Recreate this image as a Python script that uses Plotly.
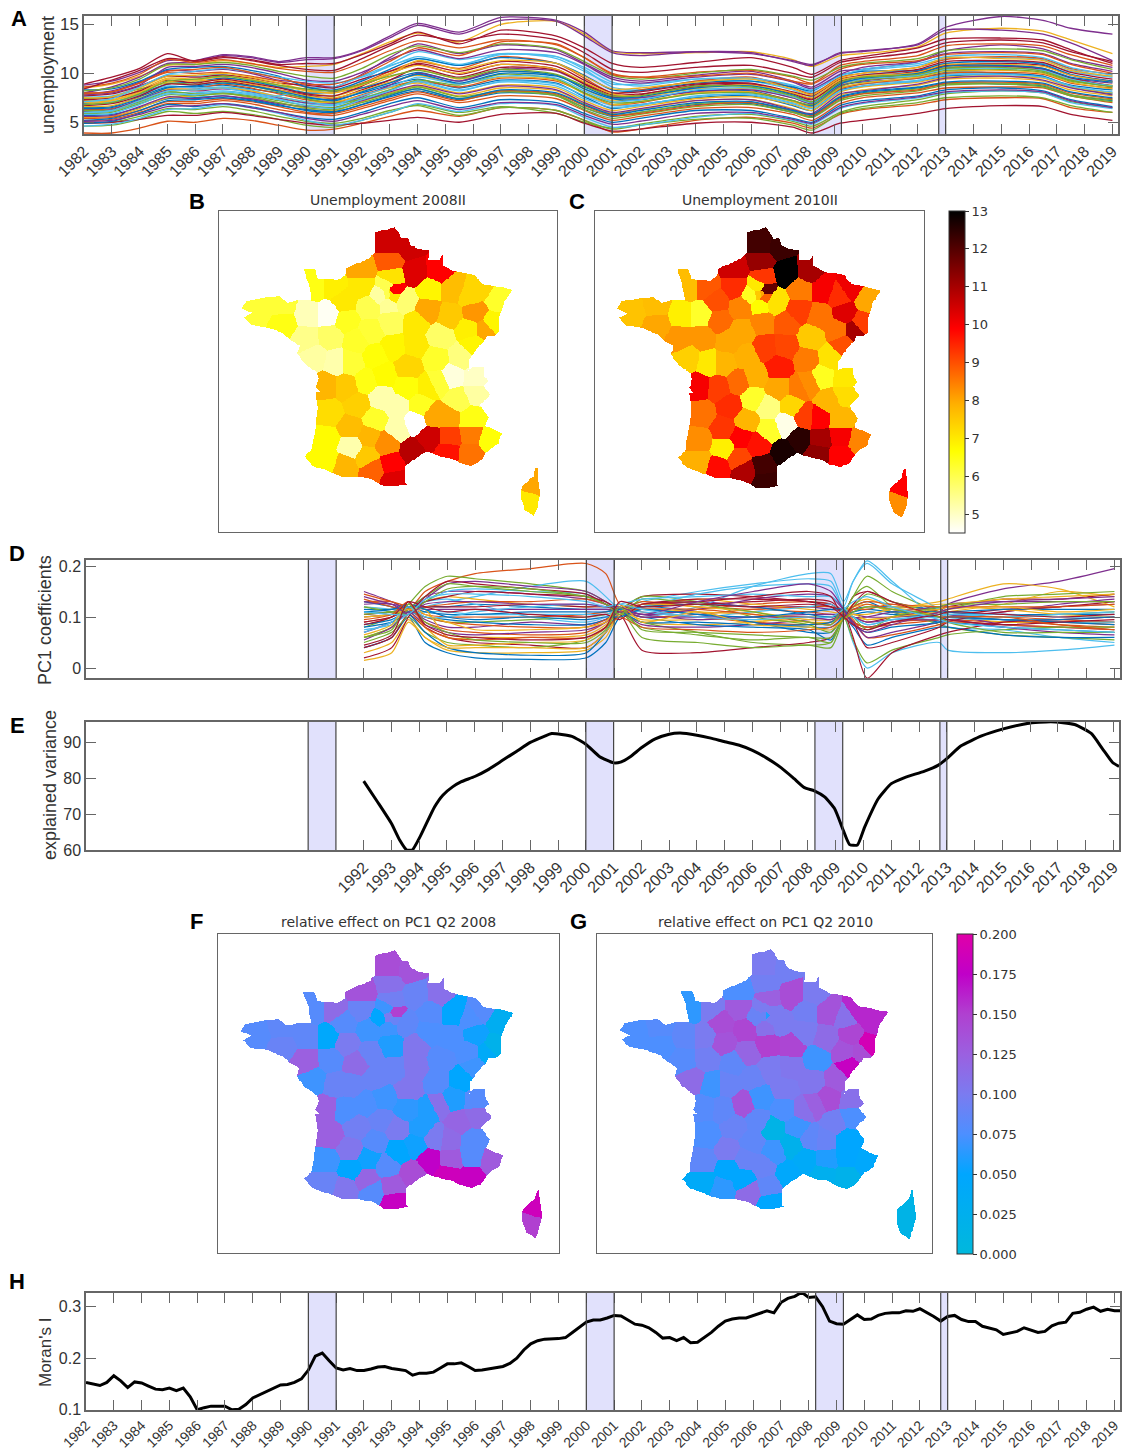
import numpy as np
import plotly.graph_objects as go

W, H = 1126, 1453
SANS = "Liberation Sans"
DEJA = "DejaVu Sans"
TXT = "#333333"
BOX = "#666666"
MATLAB = ["#0072BD", "#D95319", "#EDB120", "#7E2F8E", "#77AC30", "#4DBEEE", "#A2142F"]

BANDS = [(1990, 1991), (2000, 2001), (2008.25, 2009.25), (2012.75, 2013)]
ALL_YEARS = list(range(1982, 2020))
LATE_YEARS = list(range(1992, 2020))

# ---- Panel A: unemployment by department (a sample of series, read at key dates)
A_YEARS = [1982,1983,1984,1985,1986,1987,1988,1989,1990,1991,1992,1993,1994,1995.5,1997,1999,2000,2001,2002,2004,2006,2007.5,2008.2,2009.2,2010,2012,2013,2015,2016.5,2017.5,2019]
A_SERIES = [
[5.7,5.8,6.5,7.4,7.5,7.7,7.3,6.8,6.2,6.0,6.8,7.6,8.2,7.3,8.0,7.7,6.5,5.6,6.0,6.8,6.9,6.0,5.6,7.5,8.0,8.5,9.0,8.9,8.7,7.8,7.2],
[3.9,3.9,4.4,5.1,5.0,5.4,5.2,4.7,4.2,4.3,4.9,5.6,6.2,5.6,6.5,6.2,5.2,4.0,4.3,5.2,5.5,4.9,4.4,5.8,6.3,6.8,7.3,7.5,7.4,6.5,6.0],
[8.5,8.9,9.7,10.8,10.9,11.3,11.0,10.6,10.7,10.9,12.0,13.2,14.1,13.2,15.0,15.3,14.0,12.2,12.0,12.1,12.2,11.4,10.7,11.8,12.0,12.7,14.1,14.6,14.3,13.4,12.0],
[8.0,8.6,9.6,11.0,11.1,11.8,11.6,11.1,11.4,11.5,12.3,13.6,14.9,14.0,15.4,15.3,13.8,12.1,11.8,12.2,12.1,11.2,10.8,12.1,12.2,13.0,14.7,15.8,15.4,14.6,14.0],
[4.6,4.7,5.3,6.1,5.9,6.1,5.8,5.3,4.7,4.5,5.2,6.0,6.8,6.0,6.6,5.9,5.0,4.4,4.8,5.6,5.8,5.1,4.6,6.0,6.6,7.3,7.9,8.2,8.0,7.1,6.5],
[7.6,7.7,8.6,9.8,9.7,9.9,9.3,8.7,8.3,8.0,9.3,10.9,12.2,11.4,12.0,11.7,10.4,8.6,8.3,9.2,9.2,8.3,7.6,9.0,9.8,10.3,11.0,11.3,11.0,10.2,9.6],
[8.9,9.6,10.5,12.0,11.2,11.6,11.4,10.9,11.0,11.0,11.9,13.0,14.2,13.0,14.4,13.8,12.6,11.0,10.6,11.1,11.6,10.6,9.9,11.3,11.7,12.6,13.5,13.6,13.4,12.4,11.0],
[6.5,6.6,7.6,8.6,8.6,8.8,8.4,8.0,7.5,7.3,8.0,8.8,9.4,8.5,9.3,9.0,7.6,6.4,6.8,7.5,7.7,6.7,6.2,8.3,8.7,9.2,9.7,9.9,9.6,8.8,8.3],
[5.2,5.3,6.0,6.9,6.9,7.2,6.9,6.3,5.9,5.7,6.4,7.2,7.9,7.0,7.7,7.4,6.2,5.2,5.6,6.4,6.5,5.8,5.2,6.9,7.5,8.0,8.5,8.6,8.5,7.7,7.0],
[7.2,7.3,8.3,9.5,9.4,9.6,9.1,8.6,8.0,7.7,8.5,9.6,10.4,9.4,10.2,9.8,8.4,7.2,7.5,8.4,8.4,7.5,6.9,8.8,9.4,9.9,10.6,10.7,10.3,9.3,8.8],
[7.9,8.2,9.1,10.3,10.2,10.4,10.0,9.3,9.0,8.6,9.9,11.6,13.0,12.0,12.9,12.4,11.0,9.6,9.2,9.8,10.2,9.2,8.6,10.2,10.4,11.2,12.3,12.9,12.5,11.5,10.6],
[5.0,5.0,5.6,6.4,6.3,6.6,6.2,5.6,5.1,4.9,5.4,6.2,6.7,5.7,6.5,6.2,5.2,4.3,4.7,5.3,5.4,4.7,4.2,5.9,6.4,7.0,7.5,7.7,7.5,6.7,6.0],
[5.9,6.1,7.0,8.0,8.0,8.2,7.9,7.4,6.9,6.7,7.5,8.3,9.1,8.2,9.2,8.9,7.7,6.7,6.8,7.6,7.9,7.0,6.6,8.5,8.9,9.3,9.9,9.9,9.7,8.7,8.0],
[4.9,5.0,5.3,5.7,5.7,6.0,5.7,5.3,4.9,4.7,4.9,5.2,5.5,5.0,5.8,5.9,4.9,4.1,4.3,4.9,5.0,4.5,3.9,4.9,5.2,5.9,6.4,6.7,6.6,5.8,5.2],
[6.9,7.0,7.9,8.9,9.1,9.5,9.2,8.6,8.0,8.1,8.5,9.3,10.1,9.2,10.2,9.8,8.4,7.4,7.3,8.2,8.2,7.2,6.7,8.7,9.1,9.5,10.1,10.0,9.7,8.6,7.9],
[6.3,6.4,7.2,8.3,8.4,8.9,8.5,7.9,7.3,7.0,7.8,8.6,9.2,8.6,9.5,9.2,8.0,6.8,7.0,8.0,8.1,7.2,6.5,8.4,8.9,9.5,10.0,10.1,9.9,9.0,8.5],
[5.5,5.6,6.4,7.5,7.7,8.0,7.5,7.0,6.4,6.2,7.1,8.0,8.7,7.7,8.5,8.2,6.9,5.9,6.3,7.2,7.3,6.4,5.8,7.7,8.3,8.8,9.4,9.5,9.2,8.3,7.7],
[6.1,6.3,7.3,8.3,8.2,8.4,8.1,7.5,7.0,6.9,7.6,8.8,10.0,9.2,10.4,10.2,8.9,7.6,7.5,8.1,8.3,7.5,6.9,8.7,9.2,9.8,10.5,10.7,10.4,9.5,9.0],
[7.4,7.6,8.4,9.0,8.9,9.1,8.7,8.1,7.4,7.0,7.3,7.9,8.6,7.6,8.2,7.8,6.5,5.7,6.0,6.9,7.0,6.1,5.5,7.3,7.9,8.4,8.9,9.0,8.8,7.8,7.3],
[7.0,7.1,7.8,8.7,8.5,8.6,8.3,7.7,8.5,8.6,9.7,10.8,11.5,10.8,12.0,11.5,10.2,8.9,8.9,9.4,9.4,8.7,8.0,9.5,10.3,10.8,11.5,11.6,11.4,10.4,9.6],
[6.7,6.9,7.7,8.9,8.8,9.2,8.8,8.3,7.8,7.4,8.3,9.3,10.5,9.6,10.6,10.3,8.9,7.6,7.8,8.8,8.9,7.9,7.3,9.2,9.6,10.2,10.8,11.0,10.8,9.8,9.2],
[4.9,5.1,5.9,6.8,6.6,6.9,6.6,6.0,5.5,5.3,6.0,6.9,7.5,6.5,7.3,7.0,5.9,5.0,5.4,6.2,6.2,5.4,5.0,6.7,7.2,7.7,8.3,8.5,8.2,7.3,6.6],
[8.0,8.1,9.0,10.1,10.0,10.1,9.7,9.2,8.6,8.2,9.0,10.2,11.2,10.5,11.7,11.0,9.5,8.0,8.3,9.2,9.6,8.5,7.9,9.6,10.0,10.6,11.4,11.7,11.5,10.5,9.9],
[6.6,6.7,7.5,8.4,8.3,8.5,8.2,7.6,7.1,7.1,7.7,8.5,9.0,8.0,8.8,8.5,7.2,6.2,6.6,7.4,7.6,6.8,6.2,8.1,8.6,9.1,9.6,9.7,9.5,8.6,8.0],
[5.6,5.7,6.6,7.6,7.4,7.7,7.4,6.9,6.6,6.5,7.2,8.1,8.8,7.9,8.7,8.3,7.0,6.0,6.4,7.2,7.3,6.3,5.9,7.9,8.2,8.9,9.5,9.7,9.3,8.5,7.8],
[5.9,6.0,6.9,7.8,7.7,7.9,7.6,7.0,6.5,6.3,7.0,7.8,8.4,7.4,8.1,7.7,6.3,5.4,5.8,6.6,6.8,6.0,5.5,7.2,7.7,8.2,8.8,8.9,8.6,7.7,7.1],
[4.6,4.8,5.4,6.3,6.4,6.8,6.5,5.9,5.2,4.7,5.2,6.0,6.9,6.1,6.9,6.7,5.5,4.5,4.7,5.5,5.9,5.2,4.8,6.4,6.9,7.5,8.0,8.2,8.0,7.0,6.4],
[7.7,7.9,8.7,9.7,9.6,9.8,9.5,9.0,8.8,8.5,9.4,10.2,10.9,9.9,10.9,10.4,9.0,7.8,7.9,8.6,8.9,8.0,7.4,9.0,9.4,10.0,10.8,10.8,10.5,9.5,8.7],
[8.3,8.4,9.2,10.4,10.6,10.7,10.3,9.7,8.6,8.3,9.2,10.4,11.5,10.8,11.6,11.0,9.8,8.3,8.2,9.0,9.2,8.6,8.2,9.8,10.2,10.3,11.0,11.2,10.9,9.9,9.2],
[5.4,5.5,6.2,7.1,7.1,7.4,7.1,6.6,6.0,5.9,6.6,7.4,8.1,7.2,8.2,7.9,6.7,5.7,5.9,6.7,7.0,6.2,5.7,7.4,7.9,8.3,9.0,9.1,8.9,8.0,7.4],
[7.0,7.2,8.1,9.1,9.2,9.3,8.9,8.3,7.7,7.5,8.2,9.1,9.8,8.9,9.6,9.3,7.9,6.8,7.1,8.0,8.1,7.1,6.5,8.5,9.0,9.6,10.2,10.3,10.0,9.1,8.4],
[8.8,9.2,10.1,11.3,11.3,11.9,11.7,11.2,11.6,11.6,12.4,13.8,15.1,14.2,15.7,15.4,14.2,12.3,12.1,12.2,12.0,11.3,10.9,12.0,12.3,12.9,14.4,14.4,14.0,13.1,11.3],
[6.2,6.2,7.1,8.1,7.9,8.0,7.7,7.2,6.7,6.5,7.4,8.3,9.3,8.8,9.9,9.4,8.0,7.0,7.1,7.9,8.0,7.2,6.8,8.6,9.3,9.7,10.3,10.4,10.1,9.2,8.7],
[6.0,6.2,7.2,8.2,8.3,8.5,8.0,7.6,7.1,6.8,7.7,8.6,9.6,8.9,9.7,9.5,8.2,7.1,7.3,8.3,8.5,7.6,7.0,8.9,9.4,9.8,10.4,10.5,10.3,9.4,8.7],
[7.3,7.5,8.2,9.3,9.0,9.4,9.0,8.5,7.9,7.7,8.7,9.9,11.0,10.2,11.2,10.7,9.3,8.0,8.1,8.9,9.0,8.1,7.7,9.4,9.8,10.4,11.2,11.3,11.1,10.1,9.4],
[5.2,5.4,6.2,7.2,7.3,7.5,7.2,6.7,6.3,6.1,6.8,7.7,8.4,7.4,8.3,8.0,6.8,5.8,6.2,7.0,7.1,6.2,5.8,7.6,8.1,8.6,9.1,9.2,9.0,8.1,7.5],
[8.6,9.0,9.9,11.4,11.1,11.4,11.0,10.5,10.2,10.1,11.1,12.3,13.3,12.6,13.4,12.9,11.6,10.0,9.6,10.1,10.3,9.6,9.0,10.8,11.2,11.8,12.8,13.0,12.8,11.9,10.8],
[7.5,7.6,8.5,9.7,9.8,10.0,9.6,9.0,8.3,8.0,8.9,10.0,10.8,10.0,10.9,10.4,9.1,7.9,7.7,8.5,8.8,8.0,7.5,9.3,9.7,10.1,10.9,10.9,10.7,9.8,9.1],
[7.8,8.0,8.8,10.6,10.7,10.9,10.6,10.0,9.3,9.2,10.1,11.4,12.4,11.5,12.4,12.1,10.9,9.4,9.0,9.6,9.9,9.1,8.4,9.9,10.6,11.2,12.0,12.2,12.0,11.0,10.2],
[8.2,8.5,9.4,10.9,10.9,11.1,10.8,10.2,9.7,9.5,10.5,11.9,12.8,12.1,13.0,12.5,11.2,9.8,9.4,10.0,10.4,9.7,9.3,10.6,11.0,11.5,12.3,12.5,12.3,11.4,10.4],
[7.1,7.4,8.6,9.9,10.2,10.5,10.1,9.6,9.2,9.0,9.6,10.7,11.7,10.9,11.9,11.7,10.6,9.1,8.7,9.4,9.5,8.8,8.3,9.7,10.4,11.0,11.7,11.9,11.6,10.6,9.8],
[8.4,9.3,10.3,11.5,11.3,11.7,11.3,10.8,10.4,10.3,11.5,12.8,13.9,13.3,14.0,13.4,12.1,10.4,10.1,10.6,10.8,10.0,9.6,11.1,11.5,12.2,13.1,13.4,13.1,12.2,11.2],
[6.4,6.5,7.4,8.5,8.7,9.0,8.7,8.2,7.6,7.2,8.1,9.0,9.9,9.0,10.0,9.7,8.6,7.5,7.6,8.5,8.7,7.8,7.1,8.9,9.5,10.0,10.7,10.8,10.5,9.6,9.1],
[7.9,8.1,9.0,10.2,10.4,10.6,10.1,9.5,8.9,8.9,9.8,11.2,12.6,11.8,13.2,13.0,11.6,9.9,9.6,9.7,10.0,9.2,8.9,10.4,10.9,11.3,11.9,12.1,11.9,10.9,10.0],
[6.8,7.2,8.0,9.4,9.3,9.7,9.4,8.8,8.2,8.0,8.8,9.9,11.3,10.4,11.3,11.0,9.7,8.4,8.5,9.1,9.4,8.4,7.8,9.5,10.0,10.6,11.6,11.5,11.3,10.3,9.7],
[5.1,5.2,5.8,6.6,6.7,6.9,6.5,6.0,5.4,5.1,5.8,6.6,7.2,6.3,7.0,6.8,5.7,4.8,5.1,5.9,6.0,5.3,4.9,6.5,7.0,7.6,8.1,8.3,8.1,7.2,6.5],
[6.8,7.0,7.9,9.2,9.4,9.7,9.3,8.8,8.4,8.2,8.9,9.7,10.3,9.5,10.4,9.9,8.7,7.7,7.7,8.7,8.6,7.7,7.1,9.1,9.6,9.9,10.5,10.6,10.2,9.3,8.6],
[5.8,5.9,6.8,7.9,7.8,8.1,7.8,7.3,6.7,6.4,7.3,8.2,9.2,8.3,9.1,8.7,7.4,6.5,6.7,7.7,7.8,6.9,6.4,8.2,8.7,9.2,9.8,9.9,9.6,8.7,8.1],
]

# ---- Panel D: PC1 coefficients (a sample of series, read at key dates)
D_YEARS = [1992,1993,1993.6,1994.2,1995,1996,1998,2000,2000.7,2001.2,2002,2004,2006,2008,2008.8,2009.25,2009.6,2010.1,2011,2012.7,2013,2015,2017,2019]
D_SERIES = [
[.04,.06,.10,.05,.03,.02,.017,.02,.05,.10,.12,.11,.09,.08,.08,.10,.12,.13,.11,.09,.09,.08,.075,.07],
[.13,.13,.115,.15,.17,.185,.195,.205,.185,.125,.11,.10,.09,.085,.09,.105,.09,.08,.09,.095,.095,.09,.09,.085],
[.015,.03,.09,.06,.035,.03,.03,.035,.06,.105,.09,.085,.09,.10,.10,.11,.12,.125,.11,.10,.10,.09,.09,.09],
[.15,.13,.115,.14,.15,.15,.145,.135,.125,.115,.12,.13,.12,.12,.115,.11,.09,.08,.09,.11,.125,.155,.17,.195],
[.08,.10,.125,.16,.18,.175,.165,.15,.13,.11,.09,.07,.05,.045,.05,.105,.14,.18,.15,.11,.105,.10,.105,.11],
[.10,.105,.11,.12,.13,.14,.16,.17,.14,.115,.10,.12,.16,.185,.185,.13,.17,.21,.17,.09,.08,.075,.06,.05],
[.04,.06,.105,.08,.06,.05,.045,.04,.07,.105,.035,.03,.04,.05,.06,.10,.14,.15,.13,.11,.105,.115,.12,.13],
[.13,.12,.11,.12,.12,.125,.12,.115,.115,.11,.115,.105,.09,.07,.07,.105,.115,.12,.12,.115,.11,.105,.105,.105],
[.09,.10,.115,.09,.075,.07,.065,.07,.09,.115,.105,.115,.125,.13,.125,.105,.09,.08,.085,.095,.10,.10,.095,.09],
[.12,.115,.115,.13,.14,.135,.125,.12,.12,.115,.12,.135,.125,.115,.11,.105,.10,.095,.10,.105,.11,.125,.15,.14],
[.07,.09,.115,.095,.08,.08,.09,.085,.095,.11,.085,.08,.085,.095,.10,.105,.105,.10,.10,.105,.105,.085,.08,.075],
[.05,.07,.10,.07,.05,.045,.04,.055,.08,.115,.06,.05,.04,.045,.04,.10,.14,.16,.12,.085,.08,.065,.06,.055],
[.11,.11,.12,.13,.135,.125,.10,.09,.10,.115,.13,.15,.165,.175,.17,.11,.05,.00,.03,.05,.035,.03,.035,.045],
[.105,.11,.12,.12,.12,.12,.125,.12,.12,.115,.14,.145,.14,.13,.125,.11,.10,.09,.10,.115,.12,.135,.135,.145],
[.08,.09,.105,.07,.04,.03,.025,.03,.07,.11,.10,.085,.08,.075,.055,.10,.08,.045,.06,.08,.08,.065,.06,.06],
[.10,.105,.115,.12,.125,.13,.13,.135,.125,.115,.13,.12,.115,.11,.105,.105,.115,.125,.115,.105,.10,.095,.085,.08],
[.06,.08,.11,.08,.045,.045,.05,.055,.08,.11,.095,.095,.095,.09,.09,.105,.125,.135,.12,.13,.135,.165,.155,.12],
[.14,.125,.115,.135,.165,.17,.16,.15,.13,.115,.105,.095,.10,.105,.105,.105,.10,.09,.095,.095,.10,.11,.125,.135],
[.105,.11,.115,.10,.09,.09,.095,.10,.105,.115,.14,.13,.10,.085,.07,.10,.12,.145,.13,.11,.115,.14,.145,.15],
[.12,.115,.11,.13,.15,.155,.15,.145,.125,.115,.12,.145,.16,.165,.16,.12,.17,.205,.165,.115,.10,.095,.09,.09],
[.09,.10,.115,.13,.14,.15,.145,.14,.13,.115,.125,.125,.13,.135,.13,.11,.09,.04,.05,.08,.09,.11,.12,.125],
[.085,.095,.11,.10,.095,.09,.085,.085,.095,.11,.09,.09,.085,.085,.09,.105,.105,.11,.105,.10,.10,.095,.09,.085],
[.145,.13,.12,.105,.10,.10,.10,.105,.11,.115,.10,.105,.115,.12,.12,.11,.095,.06,.065,.085,.09,.085,.08,.075],
[.03,.05,.095,.06,.04,.04,.04,.04,.07,.105,.115,.11,.105,.10,.10,.105,.11,.12,.115,.115,.12,.115,.105,.10],
[.13,.125,.12,.115,.115,.115,.115,.115,.115,.115,.105,.115,.135,.145,.14,.115,.10,.10,.11,.12,.125,.13,.13,.13],
[.06,.08,.115,.14,.165,.16,.15,.14,.125,.11,.08,.065,.055,.06,.05,.10,.055,.01,.035,.06,.065,.075,.08,.08],
[.075,.085,.105,.11,.11,.105,.105,.105,.105,.115,.11,.10,.11,.12,.125,.11,.10,.085,.095,.105,.105,.105,.10,.10],
[.02,.04,.10,.14,.17,.165,.155,.145,.125,.11,.125,.135,.135,.13,.12,.11,.06,-.02,.03,.065,.07,.09,.095,.10],
[.115,.115,.12,.11,.105,.105,.11,.11,.11,.115,.12,.125,.12,.105,.10,.105,.11,.115,.11,.11,.11,.115,.115,.115],
[.135,.12,.115,.10,.09,.085,.08,.08,.095,.11,.115,.115,.105,.09,.085,.105,.12,.13,.125,.12,.12,.12,.12,.125],
[.10,.105,.115,.115,.06,.06,.06,.065,.085,.11,.125,.12,.11,.095,.095,.105,.105,.105,.115,.125,.125,.135,.14,.145],
[.055,.08,.11,.085,.07,.065,.07,.075,.09,.11,.10,.10,.10,.10,.095,.105,.09,.06,.07,.09,.095,.08,.07,.065],
[.12,.11,.105,.13,.155,.16,.155,.14,.125,.105,.135,.125,.11,.09,.085,.115,.10,.075,.10,.12,.125,.125,.13,.13],
[.07,.09,.12,.10,.10,.11,.12,.125,.12,.125,.135,.14,.145,.14,.14,.12,.10,.085,.095,.10,.105,.10,.105,.11],
[.085,.10,.13,.12,.11,.115,.105,.10,.105,.095,.125,.13,.14,.15,.14,.10,.125,.15,.13,.10,.095,.085,.09,.095],
[.11,.115,.125,.115,.10,.095,.10,.095,.10,.10,.115,.105,.10,.11,.115,.115,.085,.07,.08,.09,.10,.095,.095,.10],
[.095,.105,.13,.08,.06,.055,.06,.06,.08,.10,.08,.075,.07,.075,.08,.095,.115,.115,.125,.10,.10,.10,.085,.075],
[.065,.085,.125,.105,.09,.075,.075,.08,.09,.125,.09,.11,.085,.08,.075,.095,.105,.095,.10,.11,.115,.12,.11,.115],
[.125,.125,.105,.125,.13,.13,.125,.125,.12,.12,.105,.13,.15,.165,.15,.115,.085,.07,.085,.11,.115,.13,.135,.14],
[.06,.075,.125,.09,.07,.055,.05,.05,.075,.12,.075,.07,.065,.06,.06,.095,.11,.12,.115,.10,.09,.07,.07,.07],
[.11,.105,.105,.135,.145,.145,.14,.13,.12,.125,.115,.10,.095,.10,.10,.115,.13,.14,.12,.095,.09,.08,.075,.07],
[.045,.065,.13,.085,.065,.06,.055,.06,.08,.13,.12,.125,.12,.125,.12,.10,.085,.075,.09,.105,.11,.105,.10,.105],
]

# ---- Panel E: explained variance
E_YEARS = [1992,1992.5,1993,1993.3,1993.55,1993.75,1994.05,1994.55,1994.85,1995.2,1995.5,1996,1996.5,1997,1997.5,1998,1998.5,1998.77,1999.5,2000,2000.5,2001,2001.25,2001.6,2002,2002.5,2003,2003.4,2004,2004.5,2005,2005.5,2006,2006.5,2007.04,2007.5,2007.87,2008.23,2008.6,2008.96,2009.27,2009.5,2009.78,2010.04,2010.53,2011,2011.48,2012.2,2012.68,2013,2013.5,2014.25,2015,2015.9,2016.75,2017.6,2018.2,2018.6,2018.97,2019.2]
E_VALUES = [79.2,73.4,67.4,62.7,60,60,64,72,75.3,77.6,79,80.5,82.5,85,87.5,90,91.7,92.5,91.7,89.5,86,84.3,84.5,86,88.5,91,92.3,92.6,92,91.2,90.2,89.3,87.8,85.7,82.9,79.9,77.4,76.5,74.8,71.5,65.5,61.5,61.4,66.4,74.3,78.5,80.2,82,83.6,85.5,89,91.8,93.7,95.3,95.8,95,92.5,88.3,84.4,83.3]

# ---- Panel H: Moran's I
H_YEARS = [1982,1982.25,1982.5,1982.75,1983,1983.25,1983.5,1983.75,1984,1984.25,1984.5,1984.75,1985,1985.25,1985.5,1985.75,1986,1986.25,1986.5,1987,1987.25,1987.5,1987.75,1988,1988.5,1988.75,1989,1989.25,1989.5,1989.75,1990,1990.25,1990.5,1990.75,1991,1991.25,1991.5,1991.75,1992,1992.25,1992.5,1992.75,1993,1993.25,1993.5,1993.75,1994,1994.25,1994.5,1994.75,1995,1995.25,1995.5,1995.75,1996,1996.25,1996.5,1996.75,1997,1997.25,1997.5,1997.75,1998,1998.25,1998.5,1999,1999.25,1999.5,1999.75,2000,2000.25,2000.5,2000.75,2001,2001.25,2001.5,2001.75,2002,2002.25,2002.5,2002.75,2003,2003.25,2003.5,2003.75,2004,2004.25,2004.5,2004.75,2005,2005.25,2005.5,2005.75,2006,2006.25,2006.5,2006.75,2007,2007.25,2007.5,2007.75,2008,2008.25,2008.5,2008.75,2009,2009.25,2009.5,2009.75,2010,2010.25,2010.5,2010.75,2011,2011.25,2011.5,2011.75,2012,2012.25,2012.5,2012.75,2013,2013.25,2013.5,2013.75,2014,2014.25,2014.5,2014.75,2015,2015.25,2015.5,2015.75,2016,2016.25,2016.5,2016.75,2017,2017.25,2017.5,2017.75,2018,2018.25,2018.5,2018.75,2019,2019.2]
H_VALUES = [.153,.150,.147,.153,.166,.156,.143,.154,.152,.146,.140,.139,.142,.137,.142,.125,.100,.104,.107,.107,.100,.101,.110,.123,.136,.143,.148,.149,.153,.160,.177,.204,.210,.195,.181,.177,.180,.176,.176,.179,.183,.184,.180,.178,.176,.167,.171,.171,.173,.181,.189,.189,.191,.184,.176,.177,.179,.181,.184,.190,.200,.216,.228,.234,.237,.238,.240,.250,.260,.270,.274,.274,.278,.283,.282,.274,.266,.264,.259,.250,.239,.240,.234,.240,.230,.231,.241,.250,.262,.272,.276,.278,.278,.283,.288,.292,.288,.308,.316,.320,.328,.318,.319,.300,.272,.267,.266,.275,.284,.275,.276,.283,.287,.288,.288,.292,.291,.296,.289,.281,.272,.281,.283,.275,.271,.271,.262,.259,.255,.246,.249,.252,.259,.254,.250,.252,.263,.268,.270,.287,.289,.295,.299,.291,.295,.292,.292]

# ---- Maps: department centres (lon, lat) in the order 01..19, 2A, 2B, 21..95
DEPT_LON = [5.35,3.55,3.2,6.25,6.25,7.1,4.45,4.65,1.5,4.15,
            2.4,2.7,5.1,-.4,2.65,.2,-.75,2.5,1.9,9.0,
            9.25,4.75,-2.85,2.0,.75,6.35,5.15,1.0,1.35,-4.05,
            4.2,1.2,.45,-.6,3.4,-1.65,1.6,.7,5.6,5.7,
            -.75,1.4,4.15,3.8,-1.7,2.35,1.6,.45,3.5,-.55,
            -1.3,4.25,5.2,-.65,6.15,5.35,-2.8,6.65,3.5,3.2,
            2.4,.1,2.3,3.15,-.75,.15,2.5,7.55,7.25,4.6,
            6.1,4.55,.2,6.45,6.4,2.35,1.0,3.0,1.85,-.3,
            2.3,2.15,1.3,6.2,5.2,-1.3,.45,1.2,6.4,3.55,
            6.9,2.25,2.22,2.47,2.47,2.15]
DEPT_LAT = [46.1,49.55,46.4,44.1,44.65,43.95,44.75,49.6,42.95,48.3,
            43.1,44.3,43.55,49.1,45.05,45.7,45.75,47.05,45.35,41.85,
            42.4,47.4,48.45,46.1,45.1,47.15,44.7,49.1,48.4,48.25,
            44.0,43.35,43.7,44.85,43.55,48.15,46.75,47.25,45.25,46.7,
            43.95,47.6,45.7,45.1,47.35,47.9,44.6,44.35,44.5,47.4,
            49.1,49.0,48.1,48.15,48.8,49.0,47.85,49.05,47.1,50.45,
            49.4,48.6,50.5,45.7,43.25,43.05,42.6,48.65,47.85,45.85,
            47.65,46.65,47.95,45.5,46.0,48.86,49.65,48.6,48.8,46.55,
            49.95,43.8,44.05,43.45,44.0,46.7,46.55,45.9,48.2,47.85,
            47.62,48.5,48.85,48.92,48.77,49.08]
UNEMP_2008 = [4.8,10.3,7.3,8.5,6.5,6.6,8.0,9.9,8.8,8.0,
              9.9,5.2,9.7,6.9,5.2,7.5,7.8,6.8,5.2,7.0,
              8.0,5.8,6.2,6.7,7.4,6.8,8.0,7.0,6.0,6.2,
              10.5,7.5,5.2,7.2,10.8,5.1,6.6,6.3,6.0,5.6,
              6.7,6.2,6.9,6.4,5.5,5.9,6.3,7.7,4.5,5.8,
              6.5,6.8,7.5,4.6,7.3,7.7,6.5,7.3,7.0,10.5,
              7.1,7.0,10.5,6.6,6.7,7.8,10.3,6.3,6.8,6.2,
              6.9,6.3,6.4,5.3,5.0,7.0,8.0,5.7,5.3,5.2,
              8.9,8.3,7.8,8.6,9.2,5.3,6.2,6.5,8.2,7.0,
              8.0,5.4,6.0,9.9,7.0,6.0]
UNEMP_2010 = [6.4,13,9.6,10,7.8,8.4,9.2,11,10.9,9.2,
              12.2,6.3,11.3,8.9,5.6,9.2,10,9.2,6.3,8.3,
              9.9,7.5,7.7,7.9,9.4,9,9.9,9.4,8.4,7.6,
              12.5,9.1,6.9,8.6,12.7,6.9,7.9,8,7.8,7.1,
              8.3,8,8.5,7.3,8.2,8.4,7.8,9.3,4.7,8.2,
              7.7,8.5,8.6,6.3,9.4,10,8,10.1,9.1,12.3,
              9.3,9,12.2,8,7.9,9.8,12.3,8,9.2,8.3,
              8.6,8.5,8.7,7.2,7,8,10.5,7.1,6.4,7,
              11.2,9.7,9.9,9.9,11,7.4,7.8,8.7,10.3,8.9,
              11,6.7,7.5,11.8,8.8,7.0]
EFFECT_2008 = [.06,.09,.105,.08,.08,.13,.10,.11,.08,.075,
               .13,.05,.185,.115,.10,.075,.125,.09,.09,.15,
               .185,.08,.085,.07,.095,.07,.115,.09,.07,.08,
               .175,.12,.05,.125,.14,.085,.09,.115,.12,.05,
               .07,.09,.06,.06,.125,.06,.08,.105,.055,.08,
               .08,.08,.075,.045,.075,.05,.09,.08,.105,.135,
               .095,.08,.14,.065,.09,.105,.18,.03,.02,.11,
               .075,.08,.10,.115,.08,.10,.135,.085,.05,.09,
               .11,.08,.055,.18,.13,.07,.09,.075,.055,.105,
               .04,.07,.10,.15,.09,.07]
EFFECT_2010 = [.14,.14,.10,.05,.05,.045,.085,.10,.115,.10,
               .085,.07,.025,.10,.015,.085,.08,.10,.085,.015,
               .015,.07,.08,.07,.09,.18,.09,.13,.145,.075,
               .04,.05,.05,.075,.045,.085,.09,.085,.095,.13,
               .085,.12,.11,.07,.08,.15,.085,.10,.022,.095,
               .065,.095,.115,.10,.11,.135,.075,.16,.105,.095,
               .125,.14,.10,.075,.04,.065,.05,.16,.19,.125,
               .135,.105,.135,.075,.11,.06,.075,.10,.09,.07,
               .095,.09,.09,.02,.06,.115,.09,.135,.145,.145,
               .14,.11,.09,.10,.10,.10]
FRANCE_LON = [2.55,2.9,3.15,3.3,3.65,4.2,4.15,4.7,4.85,4.85,5.4,5.8,6.4,6.75,7.3,8.2,7.8,7.6,7.6,7.35,7.0,6.9,6.45,6.1,6.1,5.97,6.3,6.8,6.85,7.05,6.8,7.15,6.65,7.05,6.9,7.7,7.5,7.0,6.65,6.2,5.7,5.3,4.85,4.4,4.1,3.5,3.05,3.05,3.15,2.5,2.0,1.45,.7,0,-.75,-1.4,-1.78,-1.45,-1.25,-1.15,-1.25,-1.05,-1.25,-1.1,-1.2,-1.8,-2.15,-2.0,-2.5,-2.8,-3.5,-4.35,-4.7,-4.3,-4.8,-4.6,-3.6,-3.0,-2.6,-2.0,-1.45,-1.6,-1.85,-1.3,-1.15,-.2,.15,.2,1.35,1.6,1.6]
FRANCE_LAT = [51.09,50.7,50.75,50.5,50.35,50.3,49.98,50.0,50.15,49.8,49.6,49.55,49.47,49.17,49.12,48.97,48.55,48.1,47.6,47.43,47.45,47.3,46.95,46.6,46.25,46.2,46.4,46.4,46.1,45.9,45.75,45.45,45.1,44.7,44.4,44.15,43.78,43.55,43.2,43.05,43.15,43.3,43.35,43.45,43.55,43.28,43.05,42.5,42.43,42.35,42.38,42.6,42.7,42.7,42.9,43.05,43.37,43.6,44.4,45.0,45.55,45.55,45.7,46.0,46.2,46.5,46.85,47.1,47.3,47.5,47.7,47.8,48.05,48.2,48.35,48.6,48.72,48.75,48.55,48.65,48.65,49.2,49.7,49.7,49.35,49.3,49.47,49.7,50.05,50.25,50.9]
CORSICA_LON = [9.4,9.45,9.55,9.4,9.25,8.8,8.6,8.65,9.2,9.33]
CORSICA_LAT = [43.0,42.7,42.1,41.65,41.37,41.55,42.0,42.35,42.7,43.0]

HOT_R = [[0, "#FFFFFF"], [.254, "#FFFF00"], [.40, "#FFB000"], [.635, "#FF0000"], [.82, "#800000"], [1, "#000000"]]
COOL = [[0, "#00B8DC"], [.25, "#00A6FF"], [.375, "#4D8FFF"], [.5, "#7B7BF0"], [.625, "#9B60E0"], [.75, "#B040D0"], [.875, "#C000C8"], [1, "#E000A8"]]


def inside(px, py, xs, ys):
    xs, ys = np.array(xs), np.array(ys)
    x2, y2 = np.roll(xs, -1), np.roll(ys, -1)
    out = np.zeros(px.shape, bool)
    for a, b, c, d in zip(xs, ys, x2, y2):
        cond = (b > py) != (d > py)
        with np.errstate(divide="ignore", invalid="ignore"):
            out ^= cond & (px < a + (py - b) * (c - a) / (d - b))
    return out


grid_lon = np.arange(-6.0, 10.4, 0.04)
grid_lat = np.arange(40.7, 51.75, 0.03)
GX, GY = np.meshgrid(grid_lon, grid_lat)
mask = inside(GX, GY, FRANCE_LON, FRANCE_LAT) | inside(GX, GY, CORSICA_LON, CORSICA_LAT)
dx = (GX[..., None] - np.array(DEPT_LON)) * 0.7
dy = GY[..., None] - np.array(DEPT_LAT)
nearest = np.argmin(dx * dx + dy * dy, axis=-1)


def dept_field(values):
    z = np.array(values, dtype=np.float32)[nearest]
    z[~mask] = np.nan
    return z


def fx(p):
    return p / W


def fy(p):
    return 1 - p / H


fig = go.Figure()
layout = dict(width=W, height=H, margin=dict(l=0, r=0, t=0, b=0, autoexpand=False), paper_bgcolor="white",
              plot_bgcolor="white", showlegend=False, font=dict(family=SANS, color=TXT))
shapes, notes = [], []


def line_panel(n, box, yrange, ytick, yfmt, xtick, labels, xfont, yfont):
    l, t, r, b = box
    sx = "" if n == 1 else str(n)
    layout[f"xaxis{sx}"] = dict(domain=[fx(l), fx(r)], range=[1982, 2019.2], anchor=f"y{sx}", tickmode="array",
                                tickvals=xtick, ticktext=[str(v) for v in xtick], showticklabels=labels,
                                tickangle=-45, ticks="inside", ticklen=10, tickcolor=BOX, tickwidth=1,
                                automargin=False, showline=True, linecolor=BOX, linewidth=1.5, mirror="ticks",
                                showgrid=False, zeroline=False, tickfont=dict(size=xfont, color=TXT, family=SANS))
    layout[f"yaxis{sx}"] = dict(domain=[fy(b), fy(t)], range=yrange, anchor=f"x{sx}", tickmode="array", tickvals=ytick,
                                tickformat=yfmt, ticks="inside", ticklen=10, tickcolor=BOX, tickwidth=1,
                                automargin=False, showline=True, linecolor=BOX, linewidth=1.5, mirror="ticks",
                                showgrid=False, zeroline=False, tickfont=dict(size=yfont, color=TXT, family=SANS))
    for a, c in BANDS:
        shapes.append(dict(type="rect", xref=f"x{sx}", yref=f"y{sx} domain", x0=a, x1=c, y0=0, y1=1,
                           fillcolor="#E1E1FC", line_width=0, layer="below"))
        for v in (a, c):
            shapes.append(dict(type="line", xref=f"x{sx}", yref=f"y{sx} domain", x0=v, x1=v, y0=0, y1=1,
                               line=dict(color="#444444", width=1.2), layer="above"))


line_panel(1, (84, 16, 1118, 134), [3.8, 15.85], [5, 10, 15], "d", ALL_YEARS, True, 16, 17)
line_panel(2, (86, 560, 1120, 678), [-.0196, .2118], [0, .1, .2], ".1~f", LATE_YEARS, False, 15, 16)
line_panel(3, (86, 722, 1119, 850), [60, 95.7], [60, 70, 80, 90], "d", LATE_YEARS, True, 16, 16)
line_panel(4, (86, 1293, 1120, 1410), [.0995, .3265], [.1, .2, .3], ".1f", ALL_YEARS, True, 14, 16)

for i, s in enumerate(A_SERIES):
    fig.add_trace(go.Scatter(x=A_YEARS, y=s, mode="lines", xaxis="x", yaxis="y", hoverinfo="skip",
                             line=dict(color=MATLAB[i % 7], width=1.3, shape="spline", smoothing=.7)))
for i, s in enumerate(D_SERIES):
    fig.add_trace(go.Scatter(x=D_YEARS, y=s, mode="lines", xaxis="x2", yaxis="y2", hoverinfo="skip",
                             line=dict(color=MATLAB[i % 7], width=1.2, shape="spline", smoothing=.7)))
fig.add_trace(go.Scatter(x=E_YEARS, y=E_VALUES, mode="lines", xaxis="x3", yaxis="y3",
                         line=dict(color="black", width=3, shape="spline", smoothing=.5)))
fig.add_trace(go.Scatter(x=H_YEARS, y=H_VALUES, mode="lines", xaxis="x4", yaxis="y4",
                         line=dict(color="black", width=3)))


def map_panel(n, box, x_at, xscale, y_at, yscale, values, scale, zr, bar):
    l, t, r, b = box
    sx = str(n)
    lon_l = -4.8 + (l - x_at) / xscale
    lon_r = -4.8 + (r - x_at) / xscale
    lat_t = 51.09 - (t - y_at) / yscale
    lat_b = 51.09 - (b - y_at) / yscale
    layout[f"xaxis{sx}"] = dict(domain=[fx(l), fx(r)], range=[lon_l, lon_r], anchor=f"y{sx}", showticklabels=False,
                                ticks="", showgrid=False, zeroline=False, showline=True, mirror=True, automargin=False,
                                linecolor=BOX, linewidth=1.2)
    layout[f"yaxis{sx}"] = dict(domain=[fy(b), fy(t)], range=[lat_b, lat_t], anchor=f"x{sx}", showticklabels=False,
                                ticks="", showgrid=False, zeroline=False, showline=True, mirror=True, automargin=False,
                                linecolor=BOX, linewidth=1.2)
    tr = dict(z=dept_field(values), x=grid_lon, y=grid_lat, xaxis=f"x{sx}", yaxis=f"y{sx}", colorscale=scale,
              zmin=zr[0], zmax=zr[1], hoverinfo="skip", showscale=bar is not None)
    if bar:
        tr["colorbar"] = bar
    fig.add_trace(go.Heatmap(**tr))


def cbar(left, top, bottom, vals, text):
    return dict(x=fx(left), xanchor="left", xpad=0, ypad=0, y=fy(bottom), yanchor="bottom", lenmode="pixels",
                len=bottom - top, thickness=16, thicknessmode="pixels", outlinecolor="#333333", outlinewidth=1,
                tickmode="array", tickvals=vals, ticktext=text, ticks="outside", ticklen=4, tickcolor="#333333",
                tickfont=dict(size=13, family=DEJA, color=TXT))


map_panel(5, (219, 211, 557, 532), 242, 20.8, 227, 29.7, UNEMP_2008, HOT_R, (4.5, 13), None)
map_panel(6, (595, 211, 924, 532), 617, 20.3, 227, 29.9, UNEMP_2010, HOT_R, (4.5, 13),
          cbar(949, 211, 533, [5, 6, 7, 8, 9, 10, 11, 12, 13], [str(v) for v in range(5, 14)]))
map_panel(7, (218, 934, 559, 1253), 241, 21.0, 950, 29.6, EFFECT_2008, COOL, (0, .2), None)
map_panel(8, (597, 934, 932, 1253), 620, 20.6, 949, 29.8, EFFECT_2010, COOL, (0, .2),
          cbar(957, 934, 1254, [0, .025, .05, .075, .1, .125, .15, .175, .2],
               ["0.000", "0.025", "0.050", "0.075", "0.100", "0.125", "0.150", "0.175", "0.200"]))


def note(text, x, y, size, family=SANS, angle=0, bold=False, color=TXT):
    notes.append(dict(text=f"<b>{text}</b>" if bold else text, x=fx(x), y=fy(y), xref="paper", yref="paper",
                      showarrow=False, textangle=angle, xanchor="center", yanchor="middle",
                      font=dict(size=size, family=family, color=color)))


for letter, x, y in [("A", 19, 18), ("B", 197, 201), ("C", 577, 201), ("D", 17, 553), ("E", 17, 725),
                     ("F", 196, 921), ("G", 578, 921), ("H", 17, 1281)]:
    note(letter, x, y, 22, bold=True, color="black")
note("unemployment", 48, 75, 18, angle=-90)
note("PC1 coefficients", 45, 620, 18, angle=-90)
note("explained variance", 50, 785, 18, angle=-90)
note("Moran's I", 45, 1353, 17, angle=-90)
note("Unemployment 2008II", 388, 200, 14, family=DEJA)
note("Unemployment 2010II", 760, 200, 14, family=DEJA)
note("relative effect on PC1 Q2 2008", 388, 922, 14, family=DEJA)
note("relative effect on PC1 Q2 2010", 765, 922, 14, family=DEJA)

layout["shapes"] = shapes
layout["annotations"] = notes
fig.update_layout(**layout)
fig.write_html("out.html", config=dict(displayModeBar=False),
               post_script="document.body.style.margin='0';document.body.style.overflow='hidden';")
